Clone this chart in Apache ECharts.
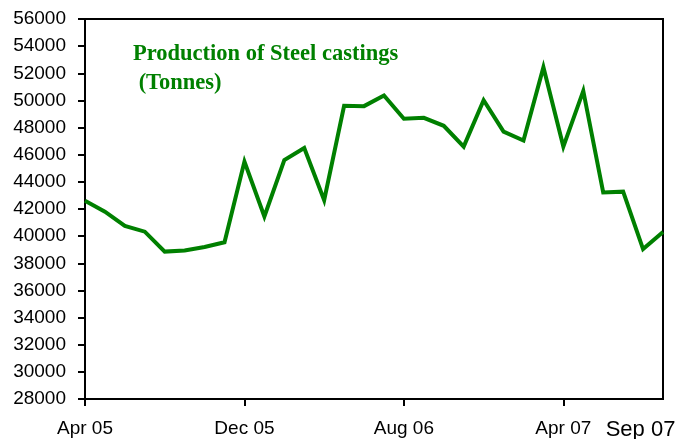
<!DOCTYPE html>
<html>
<head>
<meta charset="utf-8">
<script src="https://cdn.jsdelivr.net/npm/echarts@6/dist/echarts.min.js"></script>
<style>
  html, body { margin: 0; padding: 0; background: #fff; }
  #chart { width: 678px; height: 439px; }
</style>
</head>
<body>
<div id="chart"></div>
<script>
// Monthly production of steel castings, Apr 2005 - Sep 2007 (tonnes)
const months = [
  'Apr 05', 'May 05', 'Jun 05', 'Jul 05', 'Aug 05', 'Sep 05', 'Oct 05', 'Nov 05',
  'Dec 05', 'Jan 06', 'Feb 06', 'Mar 06', 'Apr 06', 'May 06', 'Jun 06', 'Jul 06',
  'Aug 06', 'Sep 06', 'Oct 06', 'Nov 06', 'Dec 06', 'Jan 07', 'Feb 07', 'Mar 07',
  'Apr 07', 'May 07', 'Jun 07', 'Jul 07', 'Aug 07', 'Sep 07'
];
const production = [
  42600, 41800, 40750, 40330, 38860, 38940, 39200, 39550,
  45500, 41450, 45600, 46500, 42650, 49600, 49580, 50370,
  48650, 48720, 48130, 46600, 50020, 47700, 47050, 52450,
  46600, 50700, 43220, 43280, 39050, 40300
];
// Months that carry a tick label on the time axis
const labelledIdx = [0, 8, 16, 24, 29];
const tickedIdx = [0, 8, 16, 24];

const yMin = 28000, yMax = 56000, yStep = 2000;
const titleText = 'Production of Steel castings\n (Tonnes)';

const chart = echarts.init(document.getElementById('chart'), null, { renderer: 'canvas' });
const lastIdx = months.length - 1;

chart.setOption({
  animation: false,
  backgroundColor: '#ffffff',
  title: {
    text: titleText,
    left: 133,
    top: 39,
    padding: 0,
    textStyle: {
      fontFamily: '"Liberation Serif", "Times New Roman", serif',
      fontWeight: 'bold',
      fontSize: 22.5,
      lineHeight: 29.5,
      color: '#008000'
    }
  },
  grid: {
    left: 85, right: 15, top: 19, bottom: 40,
    outerBoundsMode: 'none',
    containLabel: false,
    show: true,
    borderColor: '#000',
    borderWidth: 2,
    backgroundColor: 'transparent'
  },
  xAxis: {
    type: 'category',
    data: months,
    boundaryGap: false,
    axisLine: { show: true, lineStyle: { color: '#000', width: 2 } },
    axisTick: {
      show: true,
      length: 7,
      lineStyle: { color: '#000', width: 2 },
      interval: (i) => tickedIdx.includes(i)
    },
    axisLabel: {
      margin: 20,
      fontFamily: '"Liberation Sans", Arial, sans-serif',
      fontSize: 19,
      color: '#000',
      interval: (i) => labelledIdx.includes(i),
      formatter: (v, i) => (i === lastIdx ? '{last|' + v + '}' : v),
      rich: {
        last: {
          fontFamily: '"Liberation Sans", Arial, sans-serif',
          fontSize: 22,
          color: '#000',
          padding: [0, 45, 3, 0]
        }
      }
    },
    splitLine: { show: false }
  },
  yAxis: {
    type: 'value',
    min: yMin,
    max: yMax,
    interval: yStep,
    axisLine: { show: true, lineStyle: { color: '#000', width: 2 } },
    axisTick: { show: true, length: 7, lineStyle: { color: '#000', width: 2 } },
    axisLabel: {
      margin: 19,
      fontFamily: '"Liberation Sans", Arial, sans-serif',
      fontSize: 19,
      color: '#000',
      formatter: (v) => String(v)
    },
    splitLine: { show: false }
  },
  series: [{
    type: 'line',
    data: production,
    symbol: 'none',
    smooth: false,
    lineStyle: { color: '#008000', width: 4, join: 'miter' }
  }]
});
</script>
</body>
</html>
